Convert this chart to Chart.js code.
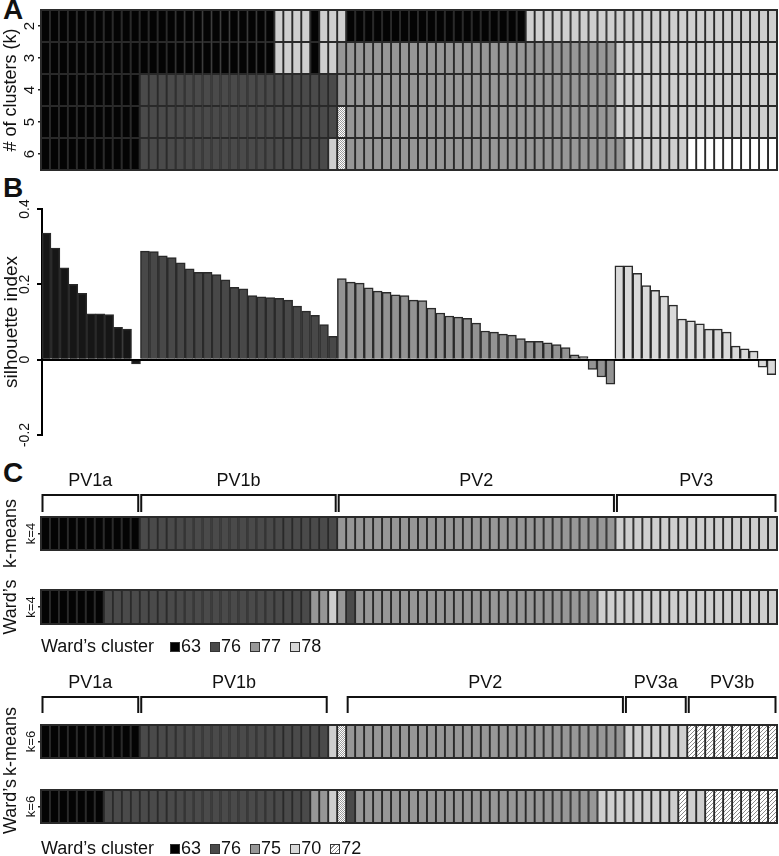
<!DOCTYPE html>
<html>
<head>
<meta charset="utf-8">
<script src="https://cdn.jsdelivr.net/npm/chart.js@4/dist/chart.umd.min.js"></script>
<style>
  body { margin: 0; background: #fff; width: 779px; height: 856px; position: relative; overflow: hidden;
         font-family: 'Liberation Sans', Arial, Helvetica, sans-serif; color: #111; }
  .box { position: absolute; left: 0; width: 779px; }
  .tag { position: absolute; left: 3px; font-weight: bold; font-size: 28px; line-height: 1; }
  .legend { position: absolute; left: 41px; font-size: 18px; line-height: 1; white-space: nowrap; }
  .legend .sw { display: inline-block; width: 8px; height: 8px; border: 1px solid #333; margin-right: 1px; }
</style>
</head>
<body>
<div class="tag" style="top:-4px">A</div>
<div class="tag" style="top:174px">B</div>
<div class="tag" style="top:459px">C</div>

<div class="box" style="top:0;height:185px"><canvas id="heat"></canvas></div>
<div class="box" style="top:180px;height:270px"><canvas id="sil"></canvas></div>
<div class="box" style="top:467px;height:123px"><canvas id="strip1"></canvas></div>
<div class="box" style="top:540px;height:124px"><canvas id="strip2"></canvas></div>
<div class="box" style="top:669px;height:129px"><canvas id="strip3"></canvas></div>
<div class="box" style="top:740px;height:116px"><canvas id="strip4"></canvas></div>
<div class="legend" id="legend4" style="top:637px"></div>
<div class="legend" id="legend6" style="top:839px"></div>

<script>
// cell codes: K=63 black, D=76 dark, M=77/75 medium, L=78/70 light, W=white, X=checkered, H=hatched (72)
const kLabels = ['2', '3', '4', '5', '6'];
const rowK2 = 'KKKKKKKKKK KKKKKKKKKK KKKKKKLLLL KLLLKKKKKK KKKKKKKKKK KKKKLLLLLL LLLLLLLLLL LLLLLLLLLL LL';
const rowK3 = 'KKKKKKKKKK KKKKKKKKKK KKKKKKLLLL KLLMMMMMMM MMMMMMMMMM MMMMMMMMMM MMMMLLLLLL LLLLLLLLLL LL';
const rowK4 = 'KKKKKKKKKK KDDDDDDDDD DDDDDDDDDD DDDMMMMMMM MMMMMMMMMM MMMMMMMMMM MMMMLLLLLL LLLLLLLLLL LL';
const rowK5 = 'KKKKKKKKKK KDDDDDDDDD DDDDDDDDDD DDDXMMMMMM MMMMMMMMMM MMMMMMMMMM MMMMLLLLLL LLLLLLLLLL LL';
const rowK6 = 'KKKKKKKKKK KDDDDDDDDD DDDDDDDDDD DDLXMMMMMM MMMMMMMMMM MMMMMMMMMM MMMMMLLLLL LLWWWWWWWW WW';

// silhouette index per sample, grouped by k=4 cluster
const sil63 = [0.336, 0.296, 0.244, 0.200, 0.176, 0.122, 0.122, 0.120, 0.086, 0.081, -0.011];
const sil76 = [0.288, 0.287, 0.276, 0.271, 0.257, 0.241, 0.232, 0.232, 0.226, 0.212, 0.192,
               0.188, 0.170, 0.167, 0.165, 0.163, 0.158, 0.142, 0.129, 0.118, 0.093, 0.062];
const sil77 = [0.215, 0.206, 0.203, 0.191, 0.182, 0.179, 0.172, 0.170, 0.158, 0.157,
               0.137, 0.124, 0.116, 0.113, 0.110, 0.097, 0.076, 0.073, 0.068, 0.065,
               0.056, 0.049, 0.049, 0.045, 0.040, 0.032, 0.013, 0.008, -0.026, -0.046, -0.065];
const sil78 = [0.249, 0.249, 0.229, 0.197, 0.184, 0.169, 0.145, 0.108, 0.103, 0.095,
               0.081, 0.081, 0.073, 0.036, 0.029, 0.023, -0.020, -0.040];
const silTicks = [-0.2, 0, 0.2, 0.4];

const kmeans4 = 'KKKKKKKKKK KDDDDDDDDD DDDDDDDDDD DDDMMMMMMM MMMMMMMMMM MMMMMMMMMM MMMMLLLLLL LLLLLLLLLL LL';
const wards4  = 'KKKKKKKDDD DDDDDDDDDD DDDDDDDDDD MMLMDMMMMM MMMMMMMMMM MMMMMMMMMM MMLLLLLLLL LLLLLLLLLL LL';
const kmeans6 = 'KKKKKKKKKK KDDDDDDDDD DDDDDDDDDD DDLXMMMMMM MMMMMMMMMM MMMMMMMMMM MMMMMLLLLL LLHHHHHHHH HH';
const wards6  = 'KKKKKKKDDD DDDDDDDDDD DDDDDDDDDD MMLXDMMMMM MMMMMMMMMM MMMMMMMMMM MMLLLLLLLL LHLLHHHHHH HH';

const topNames = ['PV1a', 'PV1b', 'PV2', 'PV3'];
const topFrom = [0, 11, 33, 64];
const topTo = [11, 33, 64, 82];
const botNames = ['PV1a', 'PV1b', 'PV2', 'PV3a', 'PV3b'];
const botFrom = [0, 11, 34, 65, 72];
const botTo = [11, 32, 65, 72, 82];

const legend4 = [['63', 'K'], ['76', 'D'], ['77', 'M'], ['78', 'L']];
const legend6 = [['63', 'K'], ['76', 'D'], ['75', 'M'], ['70', 'L'], ['72', 'H']];

const FONT = "'Liberation Sans', Arial, Helvetica, sans-serif";
Chart.defaults.font.family = FONT;
Chart.defaults.color = '#111';
Chart.defaults.animation = false;

function makePattern(kind) {
  const c = document.createElement('canvas');
  const n = kind === 'X' ? 2 : 4;
  c.width = c.height = n;
  const g = c.getContext('2d');
  g.fillStyle = '#fff';
  g.fillRect(0, 0, n, n);
  if (kind === 'X') {
    g.fillStyle = '#9a9a9a';
    g.fillRect(0, 0, 1, 1);
    g.fillRect(1, 1, 1, 1);
  } else {
    g.strokeStyle = '#8a8a8a';
    g.lineWidth = 1;
    g.beginPath();
    g.moveTo(-1, n + 1); g.lineTo(n + 1, -1);
    g.moveTo(-1, 1); g.lineTo(1, -1);
    g.moveTo(n - 1, n + 1); g.lineTo(n + 1, n - 1);
    g.stroke();
  }
  return g.createPattern(c, 'repeat');
}

const fills = {
  K: '#040404', D: '#4a4a4a', M: '#979797', L: '#cfcfcf', W: '#ffffff',
  X: makePattern('X'), H: makePattern('H')
};
const swatchCss = {
  K: '#000', D: '#4a4a4a', M: '#979797', L: '#d8d8d8',
  H: 'repeating-linear-gradient(135deg,#fff 0 2px,#888 2px 3px)'
};

const cells = s => s.replace(/ /g, '').split('');

// draws y tick labels turned 90 degrees, as in the figure
const rotatedTicks = {
  id: 'rotatedTicks',
  afterDraw(chart, args, o) {
    const sc = chart.scales.y, ctx = chart.ctx;
    ctx.save();
    ctx.font = o.font;
    ctx.fillStyle = '#111';
    ctx.textAlign = 'center';
    ctx.textBaseline = 'middle';
    sc.ticks.forEach((t, i) => {
      ctx.save();
      ctx.translate(o.x, sc.getPixelForTick(i));
      ctx.rotate(-Math.PI / 2);
      ctx.fillText(t.label, 0, 0);
      ctx.restore();
    });
    ctx.restore();
  }
};

const outline = {
  id: 'outline',
  afterDatasetsDraw(chart) {
    const a = chart.chartArea, ctx = chart.ctx;
    ctx.save();
    ctx.strokeStyle = '#2a2a2a';
    ctx.lineWidth = 2;
    ctx.strokeRect(a.left, a.top, a.right - a.left, a.bottom - a.top);
    ctx.restore();
  }
};

const brackets = {
  id: 'brackets',
  afterDraw(chart, args, o) {
    if (!o.names) return;
    const xs = chart.scales.x, top = chart.chartArea.top, ctx = chart.ctx;
    ctx.save();
    ctx.strokeStyle = '#111';
    ctx.lineWidth = 2;
    ctx.font = '18px ' + FONT;
    ctx.fillStyle = '#111';
    ctx.textAlign = 'center';
    ctx.textBaseline = 'middle';
    o.names.forEach((name, i) => {
      const x1 = xs.getPixelForValue(o.from[i]) + 1.5;
      const x2 = xs.getPixelForValue(o.to[i]) - 1.5;
      ctx.beginPath();
      ctx.moveTo(x1, top + o.tip);
      ctx.lineTo(x1, top + o.line);
      ctx.lineTo(x2, top + o.line);
      ctx.lineTo(x2, top + o.tip);
      ctx.stroke();
      ctx.fillText(name, (x1 + x2) / 2, top + o.label);
    });
    ctx.restore();
  }
};

function cellChart(id, rowLabels, rows, cfg) {
  const grid = rows.map(cells);
  const nCols = grid[0].length;
  const datasets = [];
  for (let j = 0; j < nCols; j++) {
    datasets.push({
      data: grid.map(() => 1),
      backgroundColor: grid.map(r => fills[r[j]]),
      borderColor: '#2a2a2a',
      borderWidth: 1.3,
      borderSkipped: false,
      barPercentage: 1,
      categoryPercentage: 1
    });
  }
  return new Chart(document.getElementById(id), {
    type: 'bar',
    data: { labels: rowLabels, datasets },
    plugins: [outline, rotatedTicks, brackets],
    options: {
      indexAxis: 'y',
      responsive: true,
      maintainAspectRatio: false,
      events: [],
      layout: { padding: { top: cfg.top, bottom: cfg.bottom, left: 0, right: 2 } },
      plugins: {
        legend: { display: false },
        tooltip: { enabled: false },
        rotatedTicks: { x: cfg.tickX, font: cfg.tickFont },
        brackets: cfg.brackets || {}
      },
      scales: {
        x: { stacked: true, min: 0, max: nCols, display: false },
        y: {
          stacked: true,
          ticks: { display: false },
          grid: { drawOnChartArea: false, drawTicks: true, tickLength: 3, offset: false, color: '#222', lineWidth: 1.5 },
          border: { display: false },
          title: { display: true, text: cfg.title, font: { size: 18 }, padding: 0, color: '#111' },
          afterFit: s => { s.width = 41; }
        }
      }
    }
  });
}

// panel A
cellChart('heat', kLabels, [rowK2, rowK3, rowK4, rowK5, rowK6], {
  top: 10, bottom: 15, tickX: 30, tickFont: '15px ' + FONT, title: '# of clusters (k)'
});

// panel B
const silValues = sil63.concat(sil76, sil77, sil78);
const silColors = sil63.map(() => '#161616')
  .concat(sil76.map(() => '#484848'), sil77.map(() => '#939393'), sil78.map(() => '#dadada'));
const silLabels = silValues.map((v, i) => String(i + 1));

new Chart(document.getElementById('sil'), {
  type: 'bar',
  data: {
    labels: silLabels,
    datasets: [{
      data: silValues,
      backgroundColor: silColors,
      borderColor: '#2a2a2a',
      borderWidth: 1.5,
      barPercentage: 1,
      categoryPercentage: 1
    }]
  },
  plugins: [rotatedTicks],
  options: {
    responsive: true,
    maintainAspectRatio: false,
    events: [],
    layout: { padding: { top: 29, bottom: 15, left: 0, right: 3 } },
    plugins: {
      legend: { display: false },
      tooltip: { enabled: false },
      rotatedTicks: { x: 25, font: '14px ' + FONT }
    },
    scales: {
      x: { display: false },
      y: {
        min: silTicks[0],
        max: silTicks[silTicks.length - 1],
        z: 1,
        afterBuildTicks: s => { s.ticks = silTicks.map(v => ({ value: v })); },
        ticks: { display: false, callback: v => (Math.abs(v) < 1e-9 ? '0' : v.toFixed(1)) },
        grid: {
          color: c => (c.tick && Math.abs(c.tick.value) < 1e-9 ? '#000' : 'rgba(0,0,0,0)'),
          lineWidth: 2, drawTicks: true, tickLength: 5, tickColor: '#000', tickWidth: 2
        },
        border: { display: true, color: '#000', width: 2 },
        title: { display: true, text: 'silhouette index', font: { size: 19 }, padding: 0, color: '#111' },
        afterFit: s => { s.width = 42; }
      }
    }
  }
});

// panel C
const stripTick = '13px ' + FONT;
cellChart('strip1', ['k=4'], [kmeans4], {
  top: 50, bottom: 40, tickX: 31, tickFont: stripTick, title: 'k-means',
  brackets: { names: topNames, from: topFrom, to: topTo, line: -22, tip: -5, label: -36 }
});
cellChart('strip2', ['k=4'], [wards4], {
  top: 50, bottom: 40, tickX: 31, tickFont: stripTick, title: 'Ward’s'
});
cellChart('strip3', ['k=6'], [kmeans6], {
  top: 56, bottom: 40, tickX: 31, tickFont: stripTick, title: 'k-means',
  brackets: { names: botNames, from: botFrom, to: botTo, line: -28, tip: -12, label: -42 }
});
cellChart('strip4', ['k=6'], [wards6], {
  top: 50, bottom: 33, tickX: 31, tickFont: stripTick, title: 'Ward’s'
});

function buildLegend(id, items) {
  document.getElementById(id).innerHTML = 'Ward’s cluster' + items.map(([name, code], i) =>
    `<span class="sw" style="background:${swatchCss[code]};margin-left:${i ? 9 : 16}px"></span>${name}`
  ).join('');
}
buildLegend('legend4', legend4);
buildLegend('legend6', legend6);
</script>
</body>
</html>
